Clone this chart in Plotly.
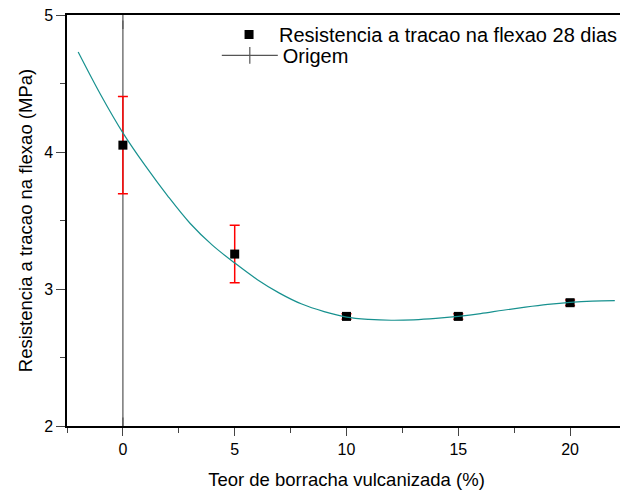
import plotly.graph_objects as go

# Measured data
x_teor = [0, 5, 10, 15, 20]
y_res = [4.05, 3.255, 2.80, 2.80, 2.90]
y_err = [0.355, 0.21, 0.02, 0.02, 0.02]

# Fitted (smoothed) curve
x_fit = [-2, -1, 0, 1, 2, 3, 4, 5, 6, 7, 8, 9, 10, 11, 12, 13, 14, 15, 16, 17, 18, 19, 20, 21, 22]
y_fit = [4.73, 4.42, 4.14, 3.90, 3.68, 3.48, 3.32, 3.19, 3.07, 2.97, 2.89, 2.835, 2.795, 2.778, 2.772,
         2.775, 2.785, 2.80, 2.82, 2.845, 2.868, 2.888, 2.903, 2.912, 2.915]

# Origin line
x_orig = [0, 0]
y_orig = [2.0, 4.96]

font_family = "Liberation Sans, Arial, sans-serif"

fig = go.Figure()

fig.add_trace(go.Scatter(
    x=x_orig, y=y_orig, mode="lines+markers", name="Origem",
    line=dict(color="#555555", width=1.2),
    marker=dict(symbol="line-ns", size=12, line=dict(color="#555555", width=1.2)),
    legend="legend2",
))

fig.add_trace(go.Scatter(
    x=x_teor, y=y_res, mode="markers", name="Resistencia a tracao na flexao 28 dias",
    marker=dict(symbol="square", size=9, color="black"),
    error_y=dict(type="data", array=y_err, color="red", thickness=1.5, width=5),
    legend="legend",
))

fig.add_trace(go.Scatter(
    x=x_fit, y=y_fit, mode="lines", line=dict(color="#17918f", width=1.2, shape="spline"),
    showlegend=False, hoverinfo="skip",
))

# The page body has an 8px margin, so the figure is sized/offset to compensate.
fig.update_layout(
    width=620, height=483,
    margin=dict(l=59, r=2, t=7, b=65),
    paper_bgcolor="white", plot_bgcolor="white",
    font=dict(family=font_family, size=18, color="black"),
    legend=dict(x=0.272, y=1.0, xanchor="left", yanchor="top",
                bgcolor="rgba(0,0,0,0)", font=dict(size=20), itemwidth=50),
    legend2=dict(x=0.268, y=0.949, xanchor="left", yanchor="top",
                 bgcolor="rgba(0,0,0,0)", font=dict(size=20), itemwidth=56),
    showlegend=True,
)

fig.update_xaxes(
    range=[-2.5, 22.5], tickvals=[0, 5, 10, 15, 20], ticks="outside", ticklen=8, tickwidth=1.2,
    minor=dict(tickvals=[-2.5, 2.5, 7.5, 12.5, 17.5, 22.5], ticks="outside", ticklen=5, tickwidth=1.2),
    showline=True, linecolor="black", linewidth=1.5, mirror=True, showgrid=False, zeroline=False,
    title=dict(text="Teor de borracha vulcanizada (%)", font=dict(size=18.5), standoff=16),
    tickfont=dict(size=16), automargin=False, ticklabeloverflow="allow",
)
fig.update_yaxes(
    range=[2, 5], tickvals=[2, 3, 4, 5], ticks="outside", ticklen=9, tickwidth=1.2,
    minor=dict(tickvals=[2.5, 3.5, 4.5], ticks="outside", ticklen=5, tickwidth=1.2),
    showline=True, linecolor="black", linewidth=1.5, mirror=True, showgrid=False, zeroline=False,
    title=dict(text="Resistencia a tracao na flexao (MPa)", font=dict(size=18.5), standoff=7),
    tickfont=dict(size=16), automargin=False, ticklabeloverflow="allow",
)

fig.write_html("out.html")
